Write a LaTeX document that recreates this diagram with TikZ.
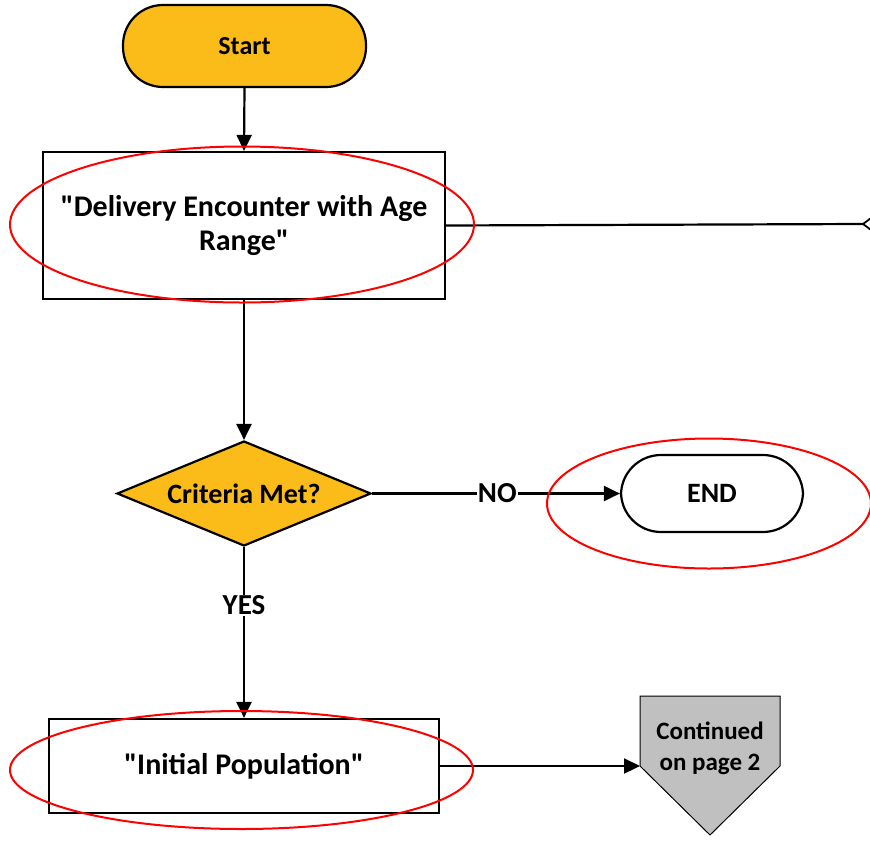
\documentclass[tikz,border=0pt]{standalone}
\usepackage{fontspec}
\setmainfont{Carlito}
\usetikzlibrary{shapes.geometric,arrows.meta}
\definecolor{gold}{HTML}{FBBC19}
\definecolor{offgray}{HTML}{C0C0C0}
\newcommand{\fsz}[2]{\bfseries\fontsize{#1}{#2}\selectfont}
\tikzset{
  base/.style={draw=black, line width=2.2pt, align=center, inner sep=0pt},
  term/.style={base, rectangle, rounded corners=40pt},
  procbox/.style={base, rectangle},
  decision/.style={base, diamond, fill=gold, minimum width=254pt, minimum height=105pt, aspect=2.42},
  conn/.style={line width=2.2pt, -{Triangle[length=16pt,width=15pt]}},
  plainline/.style={line width=2.2pt},
  redring/.style={draw=red, line width=2pt},
  lbl/.style={font=\fsz{29}{32}, fill=white, inner sep=1pt}
}
\begin{document}
\begin{tikzpicture}[x=1pt,y=-1pt]
\useasboundingbox (0,0) rectangle (870,849);
\node[term, fill=gold, minimum width=243pt, minimum height=82pt, font=\fsz{26}{30}] (start) at (244.5,46) {Start};
\node[procbox, minimum width=402pt, minimum height=147pt, font=\fsz{30}{34}] (deliv) at (244,225.5) {\textquotedbl Delivery Encounter with Age\\Range\textquotedbl};
\node[decision, font=\fsz{28}{32}] (crit) at (244,493.5) {Criteria Met?};
\node[term, fill=white, minimum width=182pt, minimum height=77pt, font=\fsz{28}{32}] (end) at (712,493.5) {END};
\node[procbox, minimum width=390pt, minimum height=94pt, font=\fsz{30}{34}] (init) at (244,766) {\textquotedbl Initial Population\textquotedbl};
% off-page connector
\draw[fill=offgray, line width=1pt] (640,696) -- (780,696) -- (780,766) -- (710,835) -- (640,766) -- cycle;
\coordinate (contleft) at (640,766);
\node[font=\fsz{25}{31}, align=center] (cont) at (710,748) {Continued\\on page 2};
% right edge stub
\coordinate (offr) at (863,224);
\draw[plainline] (deliv.east) -- (offr);
\draw[line width=1.8pt] (871,218) -- (offr) -- (871,230);
% connectors
\draw[conn] (start.south) -- (deliv.north);
\draw[conn] (deliv.south) -- (crit.north);
\draw[conn] (crit.east) -- node[lbl, pos=0.505] (no) {NO} (end.west);
\draw[conn] (crit.south) -- node[lbl, pos=0.34] (yes) {YES} (init.north);
\draw[conn] (init.east) -- (contleft);
% red rings
\draw[redring] (242,224.5) ellipse [x radius=232pt, y radius=78pt];
\draw[redring] (709,503.5) ellipse [x radius=162pt, y radius=65pt];
\draw[redring] (241.5,770) ellipse [x radius=231.5pt, y radius=59pt];
\end{tikzpicture}
\end{document}
